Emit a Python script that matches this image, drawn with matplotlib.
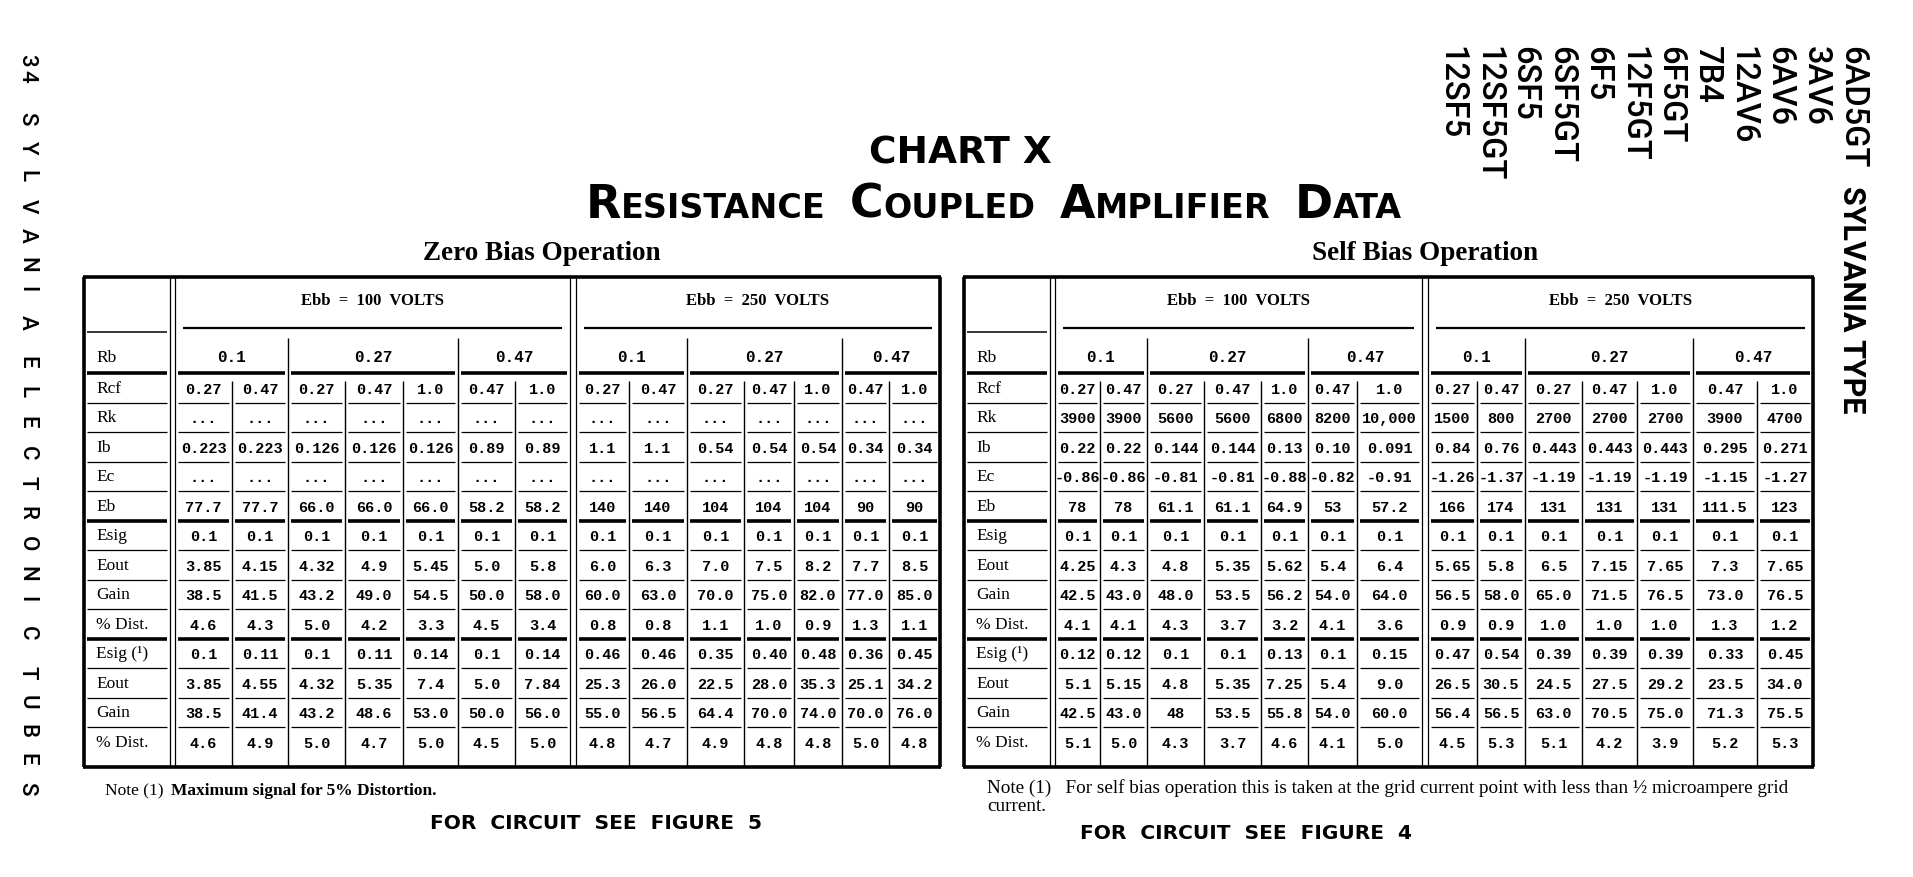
import matplotlib
matplotlib.use('Agg')
import matplotlib.pyplot as plt

# ---- data ----

RB_VALUES = ['0.1', '0.27', '0.47']
RB_SPAN = [2, 3, 2]
RCF_VALUES = ['0.27', '0.47', '0.27', '0.47', '1.0', '0.47', '1.0']
ROW_LABELS = ['Rcf', 'Rk', 'Ib', 'Ec', 'Eb', 'Esig', 'Eout', 'Gain', '% Dist.',
              'Esig (\u00b9)', 'Eout', 'Gain', '% Dist.']

# rows: Rk, Ib, Ec, Eb, Esig, Eout, Gain, %Dist, Esig(1), Eout, Gain, %Dist
zero_100 = [
    ['...'] * 7,
    ['0.223', '0.223', '0.126', '0.126', '0.126', '0.89', '0.89'],
    ['...'] * 7,
    ['77.7', '77.7', '66.0', '66.0', '66.0', '58.2', '58.2'],
    ['0.1'] * 7,
    ['3.85', '4.15', '4.32', '4.9', '5.45', '5.0', '5.8'],
    ['38.5', '41.5', '43.2', '49.0', '54.5', '50.0', '58.0'],
    ['4.6', '4.3', '5.0', '4.2', '3.3', '4.5', '3.4'],
    ['0.1', '0.11', '0.1', '0.11', '0.14', '0.1', '0.14'],
    ['3.85', '4.55', '4.32', '5.35', '7.4', '5.0', '7.84'],
    ['38.5', '41.4', '43.2', '48.6', '53.0', '50.0', '56.0'],
    ['4.6', '4.9', '5.0', '4.7', '5.0', '4.5', '5.0'],
]
zero_250 = [
    ['...'] * 7,
    ['1.1', '1.1', '0.54', '0.54', '0.54', '0.34', '0.34'],
    ['...'] * 7,
    ['140', '140', '104', '104', '104', '90', '90'],
    ['0.1'] * 7,
    ['6.0', '6.3', '7.0', '7.5', '8.2', '7.7', '8.5'],
    ['60.0', '63.0', '70.0', '75.0', '82.0', '77.0', '85.0'],
    ['0.8', '0.8', '1.1', '1.0', '0.9', '1.3', '1.1'],
    ['0.46', '0.46', '0.35', '0.40', '0.48', '0.36', '0.45'],
    ['25.3', '26.0', '22.5', '28.0', '35.3', '25.1', '34.2'],
    ['55.0', '56.5', '64.4', '70.0', '74.0', '70.0', '76.0'],
    ['4.8', '4.7', '4.9', '4.8', '4.8', '5.0', '4.8'],
]
self_100 = [
    ['3900', '3900', '5600', '5600', '6800', '8200', '10,000'],
    ['0.22', '0.22', '0.144', '0.144', '0.13', '0.10', '0.091'],
    ['-0.86', '-0.86', '-0.81', '-0.81', '-0.88', '-0.82', '-0.91'],
    ['78', '78', '61.1', '61.1', '64.9', '53', '57.2'],
    ['0.1'] * 7,
    ['4.25', '4.3', '4.8', '5.35', '5.62', '5.4', '6.4'],
    ['42.5', '43.0', '48.0', '53.5', '56.2', '54.0', '64.0'],
    ['4.1', '4.1', '4.3', '3.7', '3.2', '4.1', '3.6'],
    ['0.12', '0.12', '0.1', '0.1', '0.13', '0.1', '0.15'],
    ['5.1', '5.15', '4.8', '5.35', '7.25', '5.4', '9.0'],
    ['42.5', '43.0', '48', '53.5', '55.8', '54.0', '60.0'],
    ['5.1', '5.0', '4.3', '3.7', '4.6', '4.1', '5.0'],
]
self_250 = [
    ['1500', '800', '2700', '2700', '2700', '3900', '4700'],
    ['0.84', '0.76', '0.443', '0.443', '0.443', '0.295', '0.271'],
    ['-1.26', '-1.37', '-1.19', '-1.19', '-1.19', '-1.15', '-1.27'],
    ['166', '174', '131', '131', '131', '111.5', '123'],
    ['0.1'] * 7,
    ['5.65', '5.8', '6.5', '7.15', '7.65', '7.3', '7.65'],
    ['56.5', '58.0', '65.0', '71.5', '76.5', '73.0', '76.5'],
    ['0.9', '0.9', '1.0', '1.0', '1.0', '1.3', '1.2'],
    ['0.47', '0.54', '0.39', '0.39', '0.39', '0.33', '0.45'],
    ['26.5', '30.5', '24.5', '27.5', '29.2', '23.5', '34.0'],
    ['56.4', '56.5', '63.0', '70.5', '75.0', '71.3', '75.5'],
    ['4.5', '5.3', '5.1', '4.2', '3.9', '5.2', '5.3'],
]

TUBES = ['6AD5GT', '3AV6', '6AV6', '12AV6', '7B4', '6F5GT', '12F5GT',
         '6F5', '6SF5GT', '6SF5', '12SF5GT', '12SF5']
SIDE_WORDS = ['34', 'SYLVANIA', 'ELECTRONIC', 'TUBES']

# ---- layout (pixels, origin top-left) ----
W, H = 1913, 878
TOP, EBB_Y, EBB_LINE, RB_Y, RB_LINE = 278, 301, 329, 358, 374
ROW_H = 29.5
BOTTOM = 768

SERIF = 'Liberation Serif'
MONO = 'Liberation Mono'
SANS = 'DejaVu Sans'

fig = plt.figure(figsize=(W / 100, H / 100), dpi=100)
ax = fig.add_axes([0, 0, 1, 1])
ax.set_xlim(0, W)
ax.set_ylim(H, 0)
ax.axis('off')
renderer = fig.canvas.get_renderer()


def hline(x0, x1, y, lw):
    ax.plot([x0, x1], [y, y], color='black', lw=lw, solid_capstyle='butt')


def vline(x, y0, y1, lw):
    ax.plot([x, x], [y0, y1], color='black', lw=lw, solid_capstyle='butt')


def text_width(s, **kw):
    t = ax.text(0, 0, s, **kw)
    w = t.get_window_extent(renderer).width
    t.remove()
    return w


def draw_pieces(pieces, x, y, gap=0, ha='left', **common):
    # pieces: list of (text, extra kwargs); drawn one after another on a baseline
    widths = [text_width(s, **common, **kw) for s, kw in pieces]
    total = sum(widths) + gap * (len(pieces) - 1)
    start = x - total / 2 if ha == 'center' else x
    for (s, kw), w in zip(pieces, widths):
        ax.text(start, y, s, ha='left', va='baseline', **common, **kw)
        start += w + gap


def draw_table(title, title_x, left, label_end, sections, weight):
    right = sections[-1][0][-1]
    ax.text(title_x, 254, title, ha='center', va='center', family=SERIF,
            fontweight='bold', fontsize=19.5)

    # outer frame
    hline(left - 1, right + 1, TOP, 2.6)
    hline(left - 1, right + 1, BOTTOM, 2.6)
    vline(left, TOP, BOTTOM, 2.6)
    vline(right, TOP, BOTTOM, 2.6)
    # double rule after label column
    vline(label_end, TOP, BOTTOM, 0.9)
    vline(label_end + 5, TOP, BOTTOM, 0.9)

    row_bounds = [RB_LINE + ROW_H * (i + 1) for i in range(len(ROW_LABELS) - 1)]
    thick_rows = {4, 8}

    # label column
    hline(left + 3, label_end - 3, EBB_LINE + 4, 1.1)
    hline(left + 3, label_end - 3, RB_LINE, 2.6)
    ax.text(left + 12, RB_Y, 'Rb', ha='left', va='center', family=SERIF, fontsize=12.5)
    for i, lab in enumerate(ROW_LABELS):
        ax.text(left + 12, RB_LINE + ROW_H * (i + 0.5), lab, ha='left',
                va='center', family=SERIF, fontsize=12.5)
    for i, yb in enumerate(row_bounds):
        hline(left + 3, label_end - 3, yb, 2.6 if i in thick_rows else 0.9)

    for k, (edges, ebb, data) in enumerate(sections):
        x0, x1 = edges[0], edges[-1]
        if k > 0:
            vline(x0, TOP, BOTTOM, 0.9)
            vline(sections[k - 1][0][-1], TOP, BOTTOM, 0.9)
        ax.text((x0 + x1) / 2, EBB_Y, ebb, ha='center', va='center',
                family=SERIF, fontweight='bold', fontsize=12)
        hline(x0 + 8, x1 - 8, EBB_LINE, 1.6)

        # Rb groups
        c = 0
        for g, (rb, span) in enumerate(zip(RB_VALUES, RB_SPAN)):
            gx0, gx1 = edges[c], edges[c + span]
            if g > 0:
                vline(gx0, EBB_LINE + 10, BOTTOM, 1.0)
            ax.text((gx0 + gx1) / 2, RB_Y, rb, ha='center', va='center',
                    family=MONO, fontweight='bold', fontsize=11.5)
            hline(gx0 + 3, gx1 - 3, RB_LINE, 2.6)
            for j in range(1, span):
                vline(edges[c + j], RB_LINE + 8, BOTTOM, 1.0)
            c += span

        # cells
        rows = [RCF_VALUES] + data
        for j in range(len(edges) - 1):
            cx0, cx1 = edges[j], edges[j + 1]
            for i, row in enumerate(rows):
                ax.text((cx0 + cx1) / 2, RB_LINE + ROW_H * (i + 0.5) + 1, row[j],
                        ha='center', va='center', family=MONO,
                        fontweight=weight, fontsize=11)
            for i, yb in enumerate(row_bounds):
                hline(cx0 + 3, cx1 - 3, yb, 2.6 if i in thick_rows else 0.9)


draw_table('Zero Bias Operation', 542, 84, 170,
           [([175, 232, 288, 345, 403, 458, 515, 570], 'Ebb  =  100  VOLTS', zero_100),
            ([576, 629, 687, 744, 794, 842, 889, 940], 'Ebb  =  250  VOLTS', zero_250)],
           'bold')
draw_table('Self Bias Operation', 1425, 964, 1050,
           [([1055, 1100, 1147, 1204, 1261, 1308, 1357, 1422], 'Ebb  =  100  VOLTS', self_100),
            ([1428, 1477, 1525, 1582, 1637, 1693, 1757, 1813], 'Ebb  =  250  VOLTS', self_250)],
           'bold')

# ---- headings ----
ax.text(960, 164, 'CHART X', ha='center', va='baseline', family=SANS,
        fontweight='bold', fontsize=27)
title_words = ['RESISTANCE', 'COUPLED', 'AMPLIFIER', 'DATA']
pieces = []
for w in title_words:
    pieces.append((w[0], dict(fontsize=33)))
    pieces.append((w[1:], dict(fontsize=24)))
widths = [text_width(s, family=SANS, fontweight='bold', **kw) for s, kw in pieces]
gap = 24
total = sum(widths) + gap * (len(title_words) - 1)
xpos = 994 - total / 2
for n, ((s, kw), w) in enumerate(zip(pieces, widths)):
    ax.text(xpos, 218, s, ha='left', va='baseline', family=SANS,
            fontweight='bold', **kw)
    xpos += w + (gap if n % 2 == 1 else 0)

# tube types, rotated
for n, tube in enumerate(TUBES):
    x = 1852 - 36.4 * n
    ax.text(x, 46, tube, rotation=270, ha='center', va='top', family='Roboto',
            fontweight='medium', fontsize=23.5)
ax.text(1852, 186, 'SYLVANIA TYPE', rotation=270, ha='center', va='top',
        family='Roboto', fontweight='bold', fontsize=22)

# side running head (letter-spaced, reading downward)
side_start = [54, 112, 356, 666]
side_pitch = [16, 29, 30, 29]
for word, y0, pitch in zip(SIDE_WORDS, side_start, side_pitch):
    for n, ch in enumerate(word):
        ax.text(27, y0 + pitch * n, ch, rotation=270, ha='center', va='top',
                family='Roboto', fontweight='medium', fontsize=16)

# ---- notes ----
draw_pieces([('Note (1) ', {}), ('Maximum signal for 5% Distortion.', dict(fontweight='bold'))],
            105, 795, gap=3, family=SERIF, fontsize=12.5)
ax.text(987, 793, 'Note (1)   For self bias operation this is taken at the grid current '
        'point with less than \u00bd microampere grid', ha='left', va='baseline',
        family=SERIF, fontsize=13.8)
ax.text(987, 811, 'current.', ha='left', va='baseline', family=SERIF, fontsize=13.8)
ax.text(596, 829, 'FOR  CIRCUIT  SEE  FIGURE  5', ha='center', va='baseline', family=SANS,
        fontweight='bold', fontsize=14.5)
ax.text(1246, 839, 'FOR  CIRCUIT  SEE  FIGURE  4', ha='center', va='baseline', family=SANS,
        fontweight='bold', fontsize=14.5)

fig.savefig('out.png', dpi=100, facecolor='white')
